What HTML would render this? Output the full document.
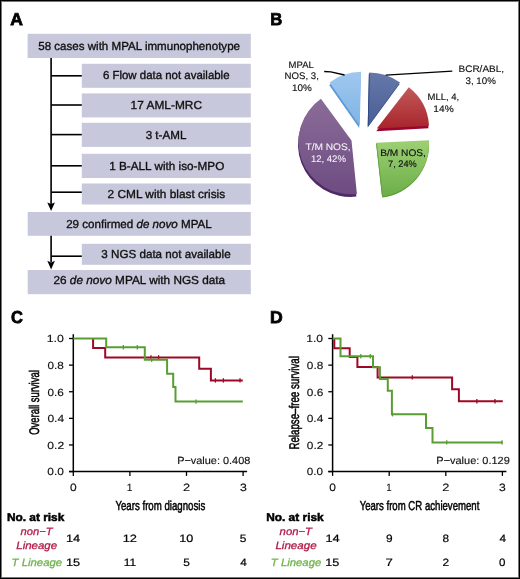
<!DOCTYPE html>
<html><head><meta charset="utf-8"><style>
html,body{margin:0;padding:0;background:#fff;}
body{width:520px;height:579px;overflow:hidden;position:relative;}
.frame{position:absolute;left:0;top:0;width:520px;height:579px;box-sizing:border-box;border:1px solid #000;box-shadow:inset 0 0 0 1px #777;}
svg{position:absolute;left:0;top:0;will-change:transform;}
text{font-family:"Liberation Sans", sans-serif;}
</style></head><body>
<svg width="520" height="579" viewBox="0 0 520 579" text-rendering="geometricPrecision">
<defs><linearGradient id="gbcr" x1="0" y1="0" x2="0" y2="1"><stop offset="0" stop-color="#6678aa"/><stop offset="1" stop-color="#485e94"/></linearGradient><linearGradient id="gmll" x1="0" y1="0" x2="0" y2="1"><stop offset="0" stop-color="#c25a5a"/><stop offset="1" stop-color="#a8242c"/></linearGradient><linearGradient id="gbm" x1="0" y1="0" x2="0" y2="1"><stop offset="0" stop-color="#9dd074"/><stop offset="1" stop-color="#6cae48"/></linearGradient><linearGradient id="gtm" x1="0" y1="0" x2="0" y2="1"><stop offset="0" stop-color="#8a6c98"/><stop offset="1" stop-color="#6e4c82"/></linearGradient><linearGradient id="gmpal" x1="0" y1="0" x2="0" y2="1"><stop offset="0" stop-color="#9fc8ef"/><stop offset="1" stop-color="#80b3e4"/></linearGradient></defs>
<text id="lA" x="10.32" y="24.5" font-size="17.2" font-weight="bold" fill="#000" stroke="#000" stroke-width="0.8" textLength="12.65" lengthAdjust="spacingAndGlyphs">A</text>
<rect x="27.6" y="33.8" width="223.2" height="24.2" fill="#c7c8dc"/>
<text id="fb0" x="38.27" y="49.8" font-size="11.6" fill="#111" stroke="#111" stroke-width="0.35" textLength="201.74" lengthAdjust="spacingAndGlyphs">58 cases with MPAL immunophenotype</text>
<rect x="81.8" y="63.8" width="169.0" height="24.0" fill="#c7c8dc"/>
<text id="fb1" x="102.88" y="79.4" font-size="11.6" fill="#111" stroke="#111" stroke-width="0.35" textLength="126.66" lengthAdjust="spacingAndGlyphs">6 Flow data not available</text>
<rect x="81.8" y="93.4" width="169.0" height="24.0" fill="#c7c8dc"/>
<text id="fb2" x="130.63" y="109.2" font-size="11.6" fill="#111" stroke="#111" stroke-width="0.35" textLength="71.38" lengthAdjust="spacingAndGlyphs">17 AML-MRC</text>
<rect x="81.8" y="122.8" width="169.0" height="24.1" fill="#c7c8dc"/>
<text id="fb3" x="145.67" y="138.5" font-size="11.6" fill="#111" stroke="#111" stroke-width="0.35" textLength="40.70" lengthAdjust="spacingAndGlyphs">3 t-AML</text>
<rect x="81.8" y="153.8" width="169.0" height="24.2" fill="#c7c8dc"/>
<text id="fb4" x="109.21" y="169.8" font-size="11.6" fill="#111" stroke="#111" stroke-width="0.35" textLength="115.07" lengthAdjust="spacingAndGlyphs">1 B-ALL with iso-MPO</text>
<rect x="81.8" y="183.5" width="169.0" height="21.0" fill="#c7c8dc"/>
<text id="fb5" x="107.52" y="197.5" font-size="11.6" fill="#111" stroke="#111" stroke-width="0.35" textLength="117.63" lengthAdjust="spacingAndGlyphs">2 CML with blast crisis</text>
<rect x="27.7" y="212" width="223.1" height="23.8" fill="#c7c8dc"/>
<text id="fb6" x="66.15" y="227.7" font-size="11.6" fill="#111" stroke="#111" stroke-width="0.35" textLength="145.66" lengthAdjust="spacingAndGlyphs">29 confirmed <tspan font-style="italic">de novo</tspan> MPAL</text>
<rect x="81.8" y="243.8" width="169.0" height="21.0" fill="#c7c8dc"/>
<text id="fb7" x="101.32" y="258" font-size="11.6" fill="#111" stroke="#111" stroke-width="0.35" textLength="129.30" lengthAdjust="spacingAndGlyphs">3 NGS data not available</text>
<rect x="27.7" y="270" width="223.1" height="24.2" fill="#c7c8dc"/>
<text id="fb8" x="53.47" y="283.5" font-size="11.6" fill="#111" stroke="#111" stroke-width="0.35" textLength="171.68" lengthAdjust="spacingAndGlyphs">26 <tspan font-style="italic">de novo</tspan> MPAL with NGS data</text>
<path d="M51.1 58 V204 M51.1 235.8 V262" stroke="#000" stroke-width="1.6" fill="none"/>
<path d="M51.1 75.8 H81.8" stroke="#000" stroke-width="1.6" fill="none"/>
<path d="M51.1 105 H81.8" stroke="#000" stroke-width="1.6" fill="none"/>
<path d="M51.1 134.6 H81.8" stroke="#000" stroke-width="1.6" fill="none"/>
<path d="M51.1 165.8 H81.8" stroke="#000" stroke-width="1.6" fill="none"/>
<path d="M51.1 192.2 H81.8" stroke="#000" stroke-width="1.6" fill="none"/>
<path d="M51.1 256.2 H81.8" stroke="#000" stroke-width="1.6" fill="none"/>
<path d="M47.300000000000004 202.4 L51.1 204 L54.9 202.4 L51.1 211 Z" fill="#000"/>
<path d="M47.300000000000004 260.79999999999995 L51.1 262.4 L54.9 260.79999999999995 L51.1 269.4 Z" fill="#000"/>
<text id="lB" x="270.23" y="24.5" font-size="17.2" font-weight="bold" fill="#000" stroke="#000" stroke-width="0.8" textLength="12.03" lengthAdjust="spacingAndGlyphs">B</text>
<path d="M367.70 127.40 L368.90 74.10 A53.5 53.5 0 0 1 399.60 84.10 Z" fill="#2c4580"/>
<path d="M368.10 125.90 L369.30 72.60 A53.5 53.5 0 0 1 400.00 82.60 Z" fill="url(#gbcr)"/>
<path d="M368.20 125.90 L369.40 73.40" stroke="#2c4580" stroke-width="1" opacity="0.8"/>
<path d="M376.30 131.20 L408.30 89.90 A52.4 52.4 0 0 1 428.50 128.30 Z" fill="#9a0530"/>
<path d="M376.80 128.60 L408.80 87.30 A52.4 52.4 0 0 1 429.00 125.70 Z" fill="url(#gmll)"/>
<path d="M376.20 143.90 L429.00 141.40 A53.4 53.4 0 0 1 382.20 197.50 Z" fill="#5a9a38"/>
<path d="M376.20 142.80 L429.00 140.30 A53.4 53.4 0 0 1 382.20 196.40 Z" fill="url(#gbm)"/>
<path d="M376.50 143.40 L382.40 195.90" stroke="#5a9a38" stroke-width="1" opacity="0.7"/>
<path d="M351.00 143.00 L356.40 196.60 A52.5 52.5 0 0 1 320.40 101.40 Z" fill="#4e2a66"/>
<path d="M351.50 140.40 L356.90 194.00 A52.5 52.5 0 0 1 320.90 98.80 Z" fill="url(#gtm)"/>
<path d="M359.20 128.10 L329.10 85.10 A53.2 53.2 0 0 1 360.70 74.30 Z" fill="#5d9ad8"/>
<path d="M359.70 125.50 L329.60 82.50 A53.2 53.2 0 0 1 361.20 71.70 Z" fill="url(#gmpal)"/>
<path d="M324.2 71.5 L330.8 71.9 L344.6 75" stroke="#000" stroke-width="1.3" fill="none"/>
<path d="M385.7 75.2 L452.3 71.2" stroke="#000" stroke-width="1.3" fill="none"/>
<text id="pMPAL" x="288.61" y="68" font-size="9.5" fill="#111" stroke="#111" stroke-width="0.15" textLength="25.14" lengthAdjust="spacingAndGlyphs">MPAL</text>
<text id="pNOS3" x="284.64" y="79" font-size="9.5" fill="#111" stroke="#111" stroke-width="0.15" textLength="34.21" lengthAdjust="spacingAndGlyphs">NOS, 3,</text>
<text id="p10a" x="291.93" y="90.9" font-size="9.5" fill="#111" stroke="#111" stroke-width="0.15" textLength="19.75" lengthAdjust="spacingAndGlyphs">10%</text>
<text id="pBCR" x="458.53" y="71.9" font-size="9.5" fill="#111" stroke="#111" stroke-width="0.15" textLength="45.55" lengthAdjust="spacingAndGlyphs">BCR/ABL,</text>
<text id="p310" x="465.47" y="83.5" font-size="9.5" fill="#111" stroke="#111" stroke-width="0.15" textLength="30.36" lengthAdjust="spacingAndGlyphs">3, 10%</text>
<text id="pMLL" x="427.59" y="99.8" font-size="9.5" fill="#111" stroke="#111" stroke-width="0.15" textLength="31.69" lengthAdjust="spacingAndGlyphs">MLL, 4,</text>
<text id="p14" x="433.38" y="111.6" font-size="9.5" fill="#111" stroke="#111" stroke-width="0.15" textLength="20.32" lengthAdjust="spacingAndGlyphs">14%</text>
<text id="pBM" x="380.29" y="155.5" font-size="9.5" fill="#111" stroke="#111" stroke-width="0.15" textLength="45.64" lengthAdjust="spacingAndGlyphs">B/M NOS,</text>
<text id="p724" x="388.07" y="166.8" font-size="9.5" fill="#111" stroke="#111" stroke-width="0.15" textLength="28.65" lengthAdjust="spacingAndGlyphs">7, 24%</text>
<text id="pTM" x="305.45" y="150" font-size="9.5" fill="#f4f0f6" stroke="#f4f0f6" stroke-width="0.1" textLength="45.21" lengthAdjust="spacingAndGlyphs">T/M NOS,</text>
<text id="p1242" x="310.90" y="161.5" font-size="9.5" fill="#f4f0f6" stroke="#f4f0f6" stroke-width="0.1" textLength="35.00" lengthAdjust="spacingAndGlyphs">12, 42%</text>
<text id="CL" x="10.89" y="322.7" font-size="17.2" font-weight="bold" fill="#000" stroke="#000" stroke-width="0.8" textLength="11.89" lengthAdjust="spacingAndGlyphs">C</text>
<path d="M73.3 334.2 V471.6 M69.0 471.6 H247.10000000000002" stroke="#000" stroke-width="1.5" fill="none"/>
<path d="M69.0 471.60 H73.3" stroke="#000" stroke-width="1.3" fill="none"/>
<text id="Cy0" x="47.37" y="475.4" font-size="10.3" fill="#111" stroke="#111" stroke-width="0.15" textLength="16.52" lengthAdjust="spacingAndGlyphs">0.0</text>
<path d="M69.0 444.98 H73.3" stroke="#000" stroke-width="1.3" fill="none"/>
<text id="Cy1" x="47.35" y="448.78" font-size="10.3" fill="#111" stroke="#111" stroke-width="0.15" textLength="16.89" lengthAdjust="spacingAndGlyphs">0.2</text>
<path d="M69.0 418.36 H73.3" stroke="#000" stroke-width="1.3" fill="none"/>
<text id="Cy2" x="47.42" y="422.16" font-size="10.3" fill="#111" stroke="#111" stroke-width="0.15" textLength="16.77" lengthAdjust="spacingAndGlyphs">0.4</text>
<path d="M69.0 391.74 H73.3" stroke="#000" stroke-width="1.3" fill="none"/>
<text id="Cy3" x="47.49" y="395.54" font-size="10.3" fill="#111" stroke="#111" stroke-width="0.15" textLength="16.31" lengthAdjust="spacingAndGlyphs">0.6</text>
<path d="M69.0 365.12 H73.3" stroke="#000" stroke-width="1.3" fill="none"/>
<text id="Cy4" x="47.55" y="368.92" font-size="10.3" fill="#111" stroke="#111" stroke-width="0.15" textLength="16.33" lengthAdjust="spacingAndGlyphs">0.8</text>
<path d="M69.0 338.50 H73.3" stroke="#000" stroke-width="1.3" fill="none"/>
<text id="Cy5" x="46.66" y="342.3" font-size="10.3" fill="#111" stroke="#111" stroke-width="0.15" textLength="17.17" lengthAdjust="spacingAndGlyphs">1.0</text>
<path d="M73.30 471.6 V475.90000000000003" stroke="#000" stroke-width="1.3" fill="none"/>
<text id="Cx0" x="70.09" y="490.6" font-size="10.6" fill="#111" stroke="#111" stroke-width="0.15" textLength="6.67" lengthAdjust="spacingAndGlyphs">0</text>
<path d="M129.90 471.6 V475.90000000000003" stroke="#000" stroke-width="1.3" fill="none"/>
<text id="Cx1" x="126.84" y="490.6" font-size="10.6" fill="#111" stroke="#111" stroke-width="0.15" textLength="5.75" lengthAdjust="spacingAndGlyphs">1</text>
<path d="M186.50 471.6 V475.90000000000003" stroke="#000" stroke-width="1.3" fill="none"/>
<text id="Cx2" x="183.07" y="490.6" font-size="10.6" fill="#111" stroke="#111" stroke-width="0.15" textLength="7.16" lengthAdjust="spacingAndGlyphs">2</text>
<path d="M243.10 471.6 V475.90000000000003" stroke="#000" stroke-width="1.3" fill="none"/>
<text id="Cx3" x="239.90" y="490.6" font-size="10.6" fill="#111" stroke="#111" stroke-width="0.15" textLength="6.84" lengthAdjust="spacingAndGlyphs">3</text>
<path d="M93.1 338.5 L93.1 348.1 L105.2 348.1 L105.2 357.4 L199.2 357.4 L199.2 368.7 L210.9 368.7 L210.9 380.4 L242.8 380.4" stroke="#9e0827" stroke-width="2.0" fill="none"/>
<path d="M151.0 355.2 V359.6" stroke="#9e0827" stroke-width="1.3" fill="none"/>
<path d="M158.6 355.2 V359.6" stroke="#9e0827" stroke-width="1.3" fill="none"/>
<path d="M215.4 378.2 V382.6" stroke="#9e0827" stroke-width="1.3" fill="none"/>
<path d="M223.4 378.2 V382.6" stroke="#9e0827" stroke-width="1.3" fill="none"/>
<path d="M240.0 378.2 V382.6" stroke="#9e0827" stroke-width="1.3" fill="none"/>
<path d="M73.3 338.5 L106.2 338.5 L106.2 347.3 L144.8 347.3 L144.8 359.7 L167.1 359.7 L167.1 373.8 L173.2 373.8 L173.2 387.1 L175.5 387.1 L175.5 401.6 L242.8 401.6" stroke="#5a9e33" stroke-width="2.0" fill="none"/>
<path d="M123.3 345.1 V349.5" stroke="#5a9e33" stroke-width="1.3" fill="none"/>
<path d="M137.3 345.1 V349.5" stroke="#5a9e33" stroke-width="1.3" fill="none"/>
<path d="M151.7 357.5 V361.9" stroke="#5a9e33" stroke-width="1.3" fill="none"/>
<path d="M196.0 399.4 V403.8" stroke="#5a9e33" stroke-width="1.3" fill="none"/>
<text id="Cpv" x="177.18" y="464.4" font-size="10.4" fill="#111" stroke="#111" stroke-width="0.15" textLength="73.17" lengthAdjust="spacingAndGlyphs">P−value: 0.408</text>
<text id="CyT" transform="translate(39.4 434.81) rotate(-90)" x="0" y="0" font-size="14" fill="#000" stroke="#000" stroke-width="0.5" textLength="64.60" lengthAdjust="spacingAndGlyphs">Overall survival</text>
<text id="CxT" x="115.45" y="510.3" font-size="13" fill="#000" stroke="#000" stroke-width="0.5" textLength="89.85" lengthAdjust="spacingAndGlyphs">Years from diagnosis</text>
<text id="Cnar" x="6.92" y="520.6" font-size="11.2" font-weight="bold" fill="#000" stroke="#000" stroke-width="0.5" textLength="57.42" lengthAdjust="spacingAndGlyphs">No. at risk</text>
<text id="Cnt" x="20.64" y="534.5" font-size="10.6" font-style="italic" fill="#b01c48" stroke="#b01c48" stroke-width="0.3" textLength="31.90" lengthAdjust="spacingAndGlyphs">non−T</text>
<text id="Clin" x="16.26" y="548.9" font-size="10.6" font-style="italic" fill="#b01c48" stroke="#b01c48" stroke-width="0.3" textLength="40.83" lengthAdjust="spacingAndGlyphs">Lineage</text>
<text id="Ctl" x="11.55" y="566" font-size="10.6" font-style="italic" fill="#70b44c" stroke="#70b44c" stroke-width="0.3" textLength="50.57" lengthAdjust="spacingAndGlyphs">T Lineage</text>
<text id="Cr00" x="65.97" y="541.8" font-size="10.6" fill="#000" stroke="#000" stroke-width="0.2" textLength="14.23" lengthAdjust="spacingAndGlyphs">14</text>
<text id="Cr01" x="66.01" y="566" font-size="10.6" fill="#000" stroke="#000" stroke-width="0.2" textLength="14.16" lengthAdjust="spacingAndGlyphs">15</text>
<text id="Cr10" x="122.67" y="541.8" font-size="10.6" fill="#000" stroke="#000" stroke-width="0.2" textLength="14.26" lengthAdjust="spacingAndGlyphs">12</text>
<text id="Cr11" x="123.68" y="566" font-size="10.6" fill="#000" stroke="#000" stroke-width="0.2" textLength="12.36" lengthAdjust="spacingAndGlyphs">11</text>
<text id="Cr20" x="179.17" y="541.8" font-size="10.6" fill="#000" stroke="#000" stroke-width="0.2" textLength="14.06" lengthAdjust="spacingAndGlyphs">10</text>
<text id="Cr21" x="183.19" y="566" font-size="10.6" fill="#000" stroke="#000" stroke-width="0.2" textLength="6.62" lengthAdjust="spacingAndGlyphs">5</text>
<text id="Cr30" x="239.78" y="541.8" font-size="10.6" fill="#000" stroke="#000" stroke-width="0.2" textLength="6.65" lengthAdjust="spacingAndGlyphs">5</text>
<text id="Cr31" x="240.17" y="566" font-size="10.6" fill="#000" stroke="#000" stroke-width="0.2" textLength="6.54" lengthAdjust="spacingAndGlyphs">4</text>
<text id="DL" x="270.12" y="322.5" font-size="17.2" font-weight="bold" fill="#000" stroke="#000" stroke-width="0.8" textLength="12.72" lengthAdjust="spacingAndGlyphs">D</text>
<path d="M332.6 334.2 V471.6 M328.3 471.6 H506.40000000000003" stroke="#000" stroke-width="1.5" fill="none"/>
<path d="M328.3 471.60 H332.6" stroke="#000" stroke-width="1.3" fill="none"/>
<text id="Dy0" x="306.86" y="475.4" font-size="10.3" fill="#111" stroke="#111" stroke-width="0.15" textLength="16.26" lengthAdjust="spacingAndGlyphs">0.0</text>
<path d="M328.3 444.98 H332.6" stroke="#000" stroke-width="1.3" fill="none"/>
<text id="Dy1" x="306.87" y="448.78" font-size="10.3" fill="#111" stroke="#111" stroke-width="0.15" textLength="16.47" lengthAdjust="spacingAndGlyphs">0.2</text>
<path d="M328.3 418.36 H332.6" stroke="#000" stroke-width="1.3" fill="none"/>
<text id="Dy2" x="306.74" y="422.16" font-size="10.3" fill="#111" stroke="#111" stroke-width="0.15" textLength="16.61" lengthAdjust="spacingAndGlyphs">0.4</text>
<path d="M328.3 391.74 H332.6" stroke="#000" stroke-width="1.3" fill="none"/>
<text id="Dy3" x="306.84" y="395.54" font-size="10.3" fill="#111" stroke="#111" stroke-width="0.15" textLength="16.42" lengthAdjust="spacingAndGlyphs">0.6</text>
<path d="M328.3 365.12 H332.6" stroke="#000" stroke-width="1.3" fill="none"/>
<text id="Dy4" x="306.87" y="368.92" font-size="10.3" fill="#111" stroke="#111" stroke-width="0.15" textLength="16.37" lengthAdjust="spacingAndGlyphs">0.8</text>
<path d="M328.3 338.50 H332.6" stroke="#000" stroke-width="1.3" fill="none"/>
<text id="Dy5" x="306.25" y="342.3" font-size="10.3" fill="#111" stroke="#111" stroke-width="0.15" textLength="16.85" lengthAdjust="spacingAndGlyphs">1.0</text>
<path d="M332.60 471.6 V475.90000000000003" stroke="#000" stroke-width="1.3" fill="none"/>
<text id="Dx0" x="329.17" y="490.6" font-size="10.6" fill="#111" stroke="#111" stroke-width="0.15" textLength="6.66" lengthAdjust="spacingAndGlyphs">0</text>
<path d="M389.20 471.6 V475.90000000000003" stroke="#000" stroke-width="1.3" fill="none"/>
<text id="Dx1" x="386.28" y="490.6" font-size="10.6" fill="#111" stroke="#111" stroke-width="0.15" textLength="5.39" lengthAdjust="spacingAndGlyphs">1</text>
<path d="M445.80 471.6 V475.90000000000003" stroke="#000" stroke-width="1.3" fill="none"/>
<text id="Dx2" x="442.23" y="490.6" font-size="10.6" fill="#111" stroke="#111" stroke-width="0.15" textLength="7.14" lengthAdjust="spacingAndGlyphs">2</text>
<path d="M502.40 471.6 V475.90000000000003" stroke="#000" stroke-width="1.3" fill="none"/>
<text id="Dx3" x="499.14" y="490.6" font-size="10.6" fill="#111" stroke="#111" stroke-width="0.15" textLength="6.74" lengthAdjust="spacingAndGlyphs">3</text>
<path d="M334.3 338.5 L334.3 348.2 L349.7 348.2 L349.7 357.0 L357.4 357.0 L357.4 366.9 L377.6 366.9 L377.6 377.4 L452.1 377.4 L452.1 389.3 L458.9 389.3 L458.9 401.3 L502.8 401.3" stroke="#9e0827" stroke-width="2.0" fill="none"/>
<path d="M412.3 375.2 V379.6" stroke="#9e0827" stroke-width="1.3" fill="none"/>
<path d="M476.9 399.1 V403.5" stroke="#9e0827" stroke-width="1.3" fill="none"/>
<path d="M495.0 399.1 V403.5" stroke="#9e0827" stroke-width="1.3" fill="none"/>
<path d="M332.6 338.5 L340.5 338.5 L340.5 356.3 L373.0 356.3 L373.0 367.3 L379.9 367.3 L379.9 378.9 L387.8 378.9 L387.8 390.7 L391.9 390.7 L391.9 414.2 L426.0 414.2 L426.0 428.0 L432.5 428.0 L432.5 442.4 L502.8 442.4" stroke="#5a9e33" stroke-width="2.0" fill="none"/>
<path d="M360.8 354.1 V358.5" stroke="#5a9e33" stroke-width="1.3" fill="none"/>
<path d="M370.3 354.1 V358.5" stroke="#5a9e33" stroke-width="1.3" fill="none"/>
<path d="M392.5 412.0 V416.4" stroke="#5a9e33" stroke-width="1.3" fill="none"/>
<path d="M446.7 440.2 V444.6" stroke="#5a9e33" stroke-width="1.3" fill="none"/>
<path d="M502.0 440.2 V444.6" stroke="#5a9e33" stroke-width="1.3" fill="none"/>
<text id="Dpv" x="436.33" y="464.4" font-size="10.4" fill="#111" stroke="#111" stroke-width="0.15" textLength="73.44" lengthAdjust="spacingAndGlyphs">P−value: 0.129</text>
<text id="DyT" transform="translate(299.4 449.58) rotate(-90)" x="0" y="0" font-size="14" fill="#000" stroke="#000" stroke-width="0.5" textLength="93.42" lengthAdjust="spacingAndGlyphs">Relapse–free survival</text>
<text id="DxT" x="359.64" y="510.3" font-size="13" fill="#000" stroke="#000" stroke-width="0.5" textLength="119.71" lengthAdjust="spacingAndGlyphs">Years from CR achievement</text>
<text id="Dnar" x="266.15" y="520.6" font-size="11.2" font-weight="bold" fill="#000" stroke="#000" stroke-width="0.5" textLength="57.53" lengthAdjust="spacingAndGlyphs">No. at risk</text>
<text id="Dnt" x="279.63" y="534.5" font-size="10.6" font-style="italic" fill="#b01c48" stroke="#b01c48" stroke-width="0.3" textLength="32.25" lengthAdjust="spacingAndGlyphs">non−T</text>
<text id="Dlin" x="275.40" y="548.9" font-size="10.6" font-style="italic" fill="#b01c48" stroke="#b01c48" stroke-width="0.3" textLength="41.19" lengthAdjust="spacingAndGlyphs">Lineage</text>
<text id="Dtl" x="270.85" y="566" font-size="10.6" font-style="italic" fill="#70b44c" stroke="#70b44c" stroke-width="0.3" textLength="50.45" lengthAdjust="spacingAndGlyphs">T Lineage</text>
<text id="Dr00" x="325.44" y="541.8" font-size="10.6" fill="#000" stroke="#000" stroke-width="0.2" textLength="14.27" lengthAdjust="spacingAndGlyphs">14</text>
<text id="Dr01" x="325.35" y="566" font-size="10.6" fill="#000" stroke="#000" stroke-width="0.2" textLength="14.07" lengthAdjust="spacingAndGlyphs">15</text>
<text id="Dr10" x="386.04" y="541.8" font-size="10.6" fill="#000" stroke="#000" stroke-width="0.2" textLength="6.62" lengthAdjust="spacingAndGlyphs">9</text>
<text id="Dr11" x="385.44" y="566" font-size="10.6" fill="#000" stroke="#000" stroke-width="0.2" textLength="7.32" lengthAdjust="spacingAndGlyphs">7</text>
<text id="Dr20" x="442.48" y="541.8" font-size="10.6" fill="#000" stroke="#000" stroke-width="0.2" textLength="6.54" lengthAdjust="spacingAndGlyphs">8</text>
<text id="Dr21" x="442.40" y="566" font-size="10.6" fill="#000" stroke="#000" stroke-width="0.2" textLength="6.66" lengthAdjust="spacingAndGlyphs">2</text>
<text id="Dr30" x="499.40" y="541.8" font-size="10.6" fill="#000" stroke="#000" stroke-width="0.2" textLength="6.55" lengthAdjust="spacingAndGlyphs">4</text>
<text id="Dr31" x="499.11" y="566" font-size="10.6" fill="#000" stroke="#000" stroke-width="0.2" textLength="6.44" lengthAdjust="spacingAndGlyphs">0</text>
</svg>
<div class="frame"></div>
</body></html>
